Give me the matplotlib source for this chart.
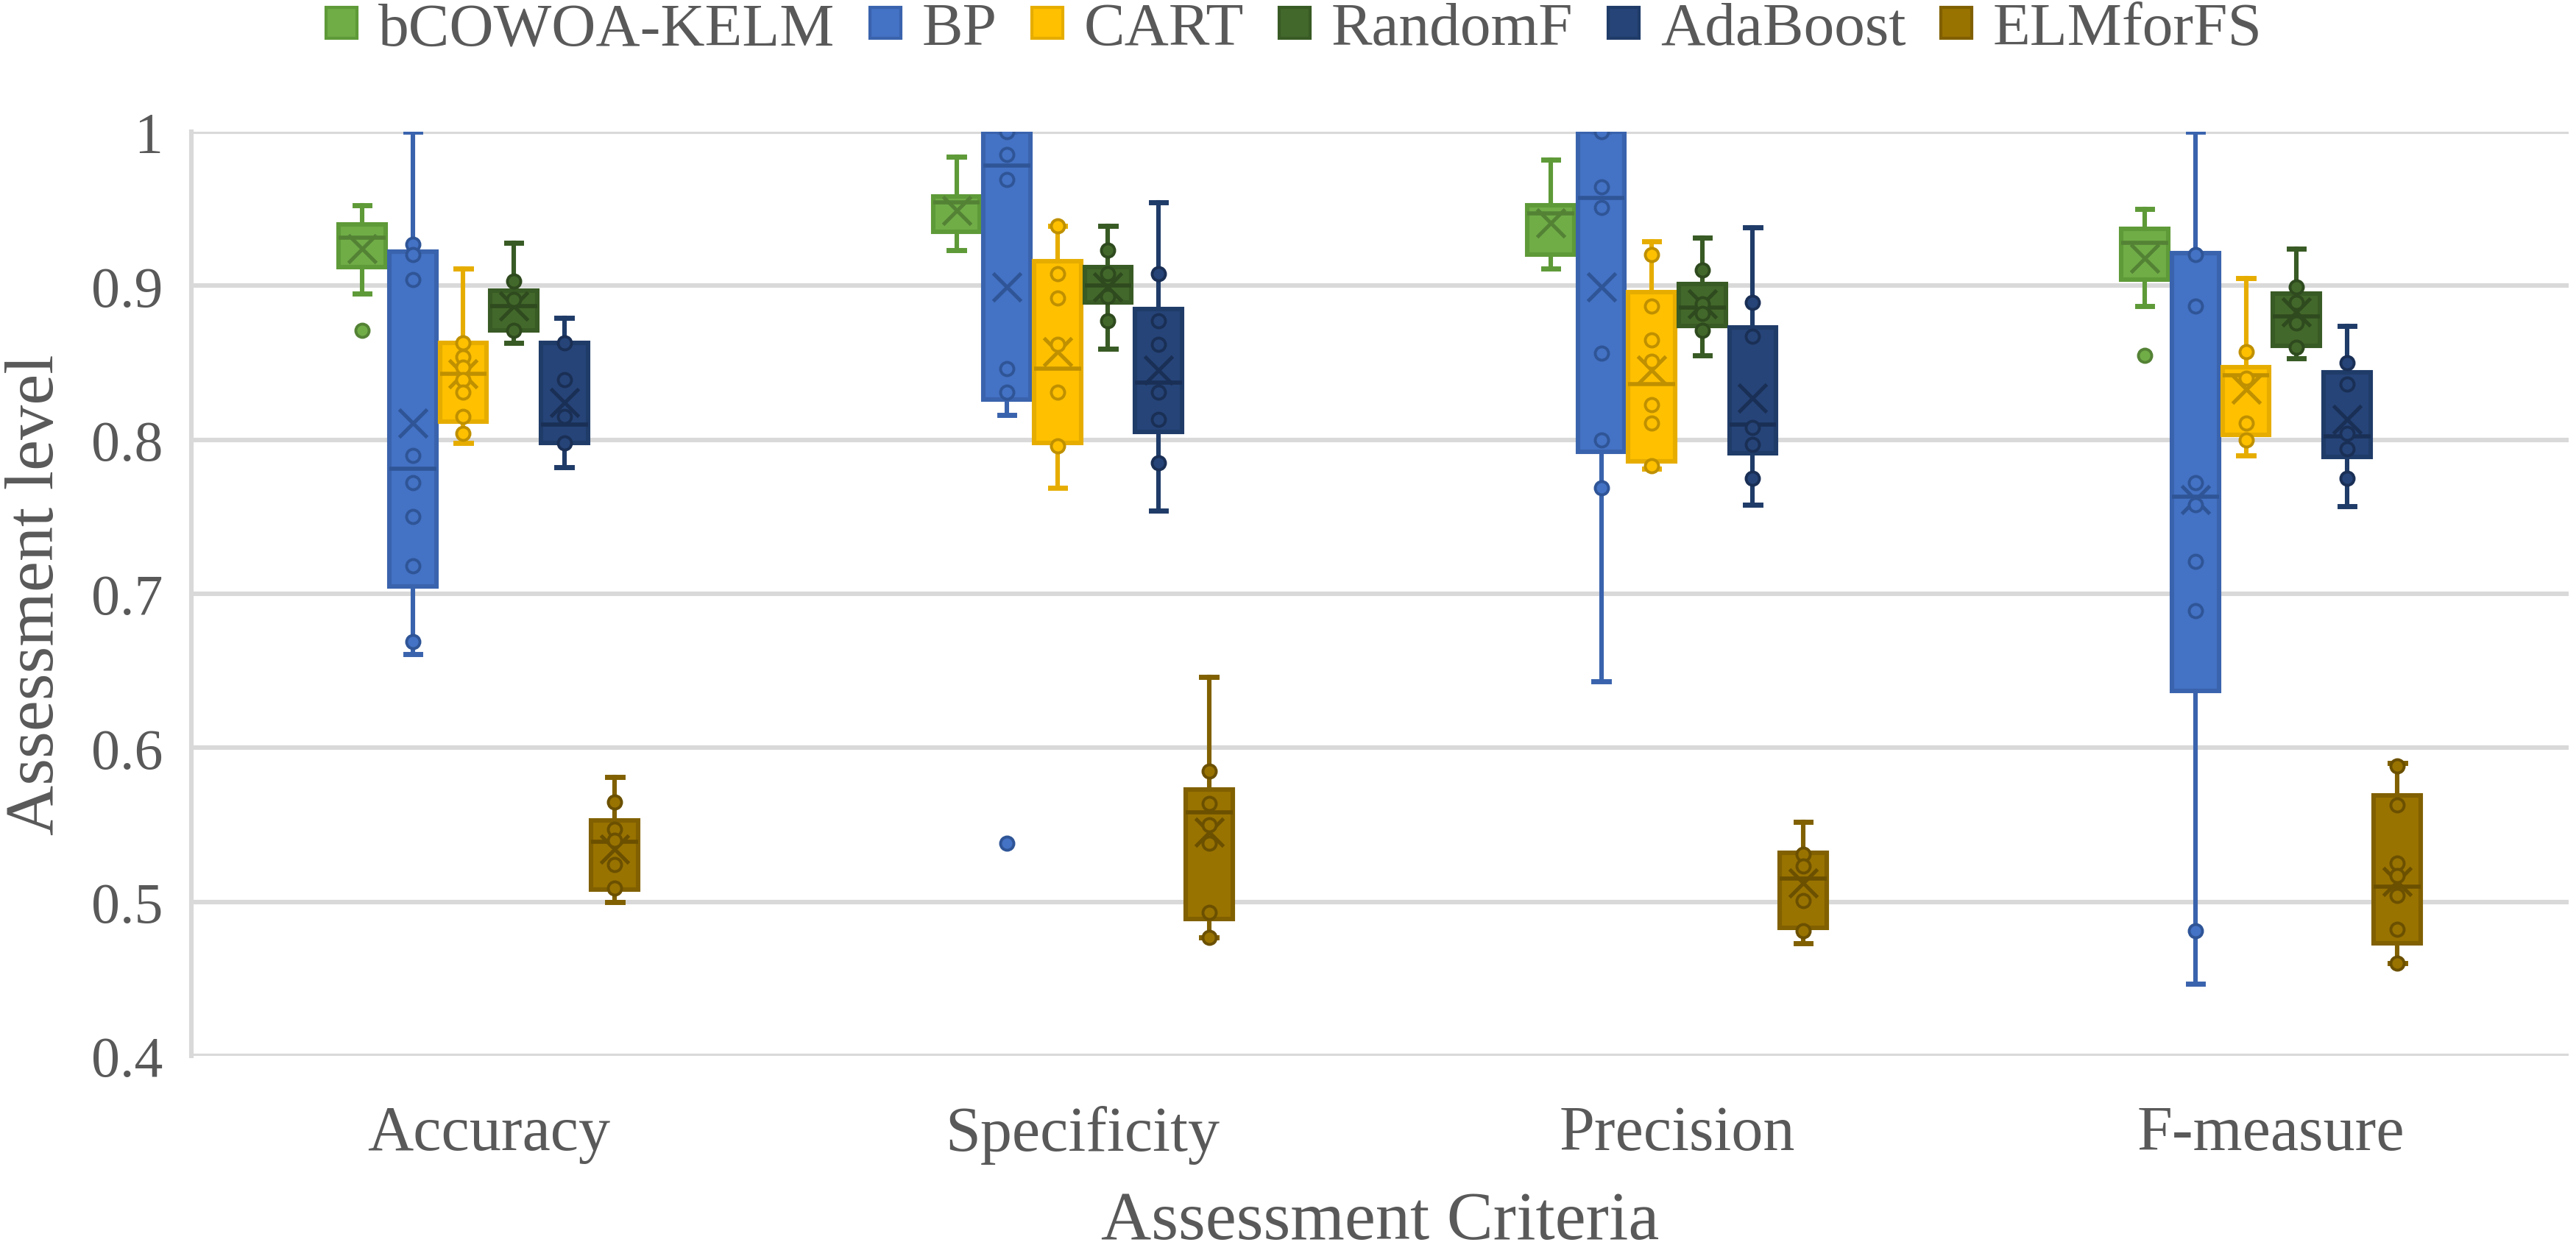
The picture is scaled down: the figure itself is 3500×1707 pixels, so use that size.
import matplotlib
matplotlib.use("Agg")
import matplotlib.pyplot as plt
from matplotlib.lines import Line2D
from matplotlib.ticker import FuncFormatter

plt.rcParams['font.family'] = ['Liberation Serif', 'DejaVu Serif']

criteria = ["Accuracy", "Specificity", "Precision", "F-measure"]
methods = ["bCOWOA-KELM", "BP", "CART", "RandomF", "AdaBoost", "ELMforFS"]

fill_colors = ["#70AD47", "#4472C4", "#FFC000", "#43682B", "#264478", "#997300"]
edge_colors = ["#5E9A38", "#3A63AD", "#E6AD00", "#385A24", "#1F3B68", "#806000"]
dark_colors = ["#548235", "#2F5597", "#BF9000", "#2E4A1E", "#1A2F55", "#6B5000"]

# per method: values for [Accuracy, Specificity, Precision, F-measure]
whislo = {
    "bCOWOA-KELM": [0.895, 0.923, 0.911, 0.887],
    "BP":          [0.661, 0.816, 0.643, 0.447],
    "CART":        [0.798, 0.769, 0.781, 0.790],
    "RandomF":     [0.863, 0.859, 0.855, 0.853],
    "AdaBoost":    [0.782, 0.754, 0.758, 0.757],
    "ELMforFS":    [0.500, 0.477, 0.473, 0.460],
}
q1 = {
    "bCOWOA-KELM": [0.912, 0.935, 0.920, 0.904],
    "BP":          [0.705, 0.826, 0.792, 0.637],
    "CART":        [0.812, 0.798, 0.786, 0.803],
    "RandomF":     [0.871, 0.889, 0.874, 0.861],
    "AdaBoost":    [0.798, 0.805, 0.791, 0.789],
    "ELMforFS":    [0.508, 0.489, 0.483, 0.473],
}
median = {
    "bCOWOA-KELM": [0.931, 0.954, 0.947, 0.928],
    "BP":          [0.781, 0.978, 0.957, 0.763],
    "CART":        [0.843, 0.846, 0.836, 0.842],
    "RandomF":     [0.887, 0.900, 0.886, 0.880],
    "AdaBoost":    [0.810, 0.837, 0.810, 0.802],
    "ELMforFS":    [0.539, 0.558, 0.515, 0.510],
}
q3 = {
    "bCOWOA-KELM": [0.940, 0.958, 0.952, 0.937],
    "BP":          [0.922, 1.000, 1.000, 0.921],
    "CART":        [0.863, 0.916, 0.896, 0.847],
    "RandomF":     [0.897, 0.912, 0.901, 0.895],
    "AdaBoost":    [0.863, 0.885, 0.873, 0.844],
    "ELMforFS":    [0.553, 0.573, 0.532, 0.569],
}
whishi = {
    "bCOWOA-KELM": [0.952, 0.984, 0.982, 0.950],
    "BP":          [1.000, 1.000, 1.000, 1.000],
    "CART":        [0.911, 0.939, 0.929, 0.905],
    "RandomF":     [0.928, 0.939, 0.931, 0.924],
    "AdaBoost":    [0.879, 0.954, 0.938, 0.874],
    "ELMforFS":    [0.581, 0.646, 0.552, 0.590],
}
mean = {
    "bCOWOA-KELM": [0.924, 0.949, 0.941, 0.918],
    "BP":          [0.811, 0.899, 0.899, 0.761],
    "CART":        [0.843, 0.857, 0.845, 0.833],
    "RandomF":     [0.887, 0.899, 0.888, 0.883],
    "AdaBoost":    [0.824, 0.845, 0.827, 0.813],
    "ELMforFS":    [0.534, 0.545, 0.512, 0.513],
}
points = {
    "bCOWOA-KELM": [[0.871], [], [], [0.855]],
    "BP": [[0.927, 0.920, 0.904, 0.790, 0.772, 0.750, 0.718, 0.669],
           [1.000, 0.985, 0.969, 0.846, 0.831, 0.538],
           [1.000, 0.964, 0.951, 0.856, 0.800, 0.769],
           [0.920, 0.887, 0.772, 0.758, 0.721, 0.689, 0.481]],
    "CART": [[0.863, 0.854, 0.847, 0.839, 0.831, 0.815, 0.804],
             [0.939, 0.908, 0.892, 0.862, 0.831, 0.796],
             [0.920, 0.887, 0.865, 0.851, 0.823, 0.811, 0.783],
             [0.857, 0.840, 0.811, 0.800]],
    "RandomF": [[0.903, 0.891, 0.871],
                [0.923, 0.908, 0.893, 0.877],
                [0.910, 0.888, 0.882, 0.871],
                [0.899, 0.889, 0.876, 0.860]],
    "AdaBoost": [[0.863, 0.839, 0.815, 0.798],
                 [0.908, 0.877, 0.862, 0.831, 0.813, 0.785],
                 [0.889, 0.867, 0.808, 0.797, 0.775],
                 [0.850, 0.836, 0.804, 0.794, 0.775]],
    "ELMforFS": [[0.565, 0.547, 0.540, 0.524, 0.509],
                 [0.585, 0.564, 0.550, 0.538, 0.493, 0.477],
                 [0.531, 0.523, 0.501, 0.481],
                 [0.588, 0.563, 0.525, 0.517, 0.504, 0.482, 0.460]],
}

y_ticks = [0.4, 0.5, 0.6, 0.7, 0.8, 0.9, 1.0]

TXT = "#595959"
GRID = "#D9D9D9"

fig = plt.figure(figsize=(17.5, 8.54), dpi=200)
ax = fig.add_axes([0.0743, 0.1593, 0.9227, 0.7353])

spacing = 0.085
bw = 0.079
for mi, m in enumerate(methods):
    stats = []
    pos = []
    for ci in range(len(criteria)):
        stats.append(dict(whislo=whislo[m][ci], q1=q1[m][ci], med=median[m][ci],
                          q3=q3[m][ci], whishi=whishi[m][ci], mean=mean[m][ci],
                          fliers=[]))
        pos.append(ci + (mi - 2.5) * spacing)
    ax.bxp(stats, positions=pos, widths=bw, capwidths=bw * 0.32,
           patch_artist=True, showmeans=True, showfliers=False,
           boxprops=dict(facecolor=fill_colors[mi], edgecolor=edge_colors[mi], linewidth=2.2),
           whiskerprops=dict(color=edge_colors[mi], linewidth=2.2),
           capprops=dict(color=edge_colors[mi], linewidth=2.5),
           medianprops=dict(color=dark_colors[mi], linewidth=2.0),
           meanprops=dict(marker='x', markersize=14, markeredgecolor=dark_colors[mi],
                          markeredgewidth=1.8, markerfacecolor='none'),
           zorder=3)
    for ci in range(len(criteria)):
        pts = points[m][ci]
        if pts:
            ax.plot([pos[ci]] * len(pts), pts, linestyle='none', marker='o',
                    markersize=6.5, markerfacecolor=fill_colors[mi],
                    markeredgecolor=dark_colors[mi], markeredgewidth=1.4, zorder=4)

ax.set_xlim(-0.5, len(criteria) - 0.5)
ax.set_ylim(0.4, 1.0)
ax.set_yticks(y_ticks)
ax.yaxis.set_major_formatter(FuncFormatter(lambda v, p: "1" if abs(v - 1) < 1e-9 else f"{v:.1f}"))
ax.set_xticks(range(len(criteria)))
ax.set_xticklabels(criteria)
ax.grid(axis='y', color=GRID, linewidth=2.2, zorder=0)
ax.set_axisbelow(True)
for s in ['top', 'right', 'bottom']:
    ax.spines[s].set_visible(False)
ax.spines['left'].set_color(GRID)
ax.spines['left'].set_linewidth(2.2)
ax.tick_params(axis='both', length=0, colors=TXT)
ax.tick_params(axis='y', labelsize=28, pad=14)
ax.tick_params(axis='x', labelsize=31, pad=24)
ax.set_ylabel("Assessment level", fontsize=34, color=TXT)
ax.set_xlabel("Assessment Criteria", fontsize=34, color=TXT, labelpad=13)
ax.yaxis.set_label_coords(-0.052, 0.5)

handles = [Line2D([0], [0], linestyle='none', marker='s', markersize=15,
                  markerfacecolor=fill_colors[i], markeredgecolor=edge_colors[i],
                  markeredgewidth=1.5) for i in range(len(methods))]
fig.legend(handles, methods, loc='center', bbox_to_anchor=(0.5, 0.976), ncol=6,
           frameon=False, fontsize=30, handletextpad=0.15, columnspacing=0.37,
           handlelength=0.9, labelcolor=TXT)

fig.savefig("out.png", dpi=200)
